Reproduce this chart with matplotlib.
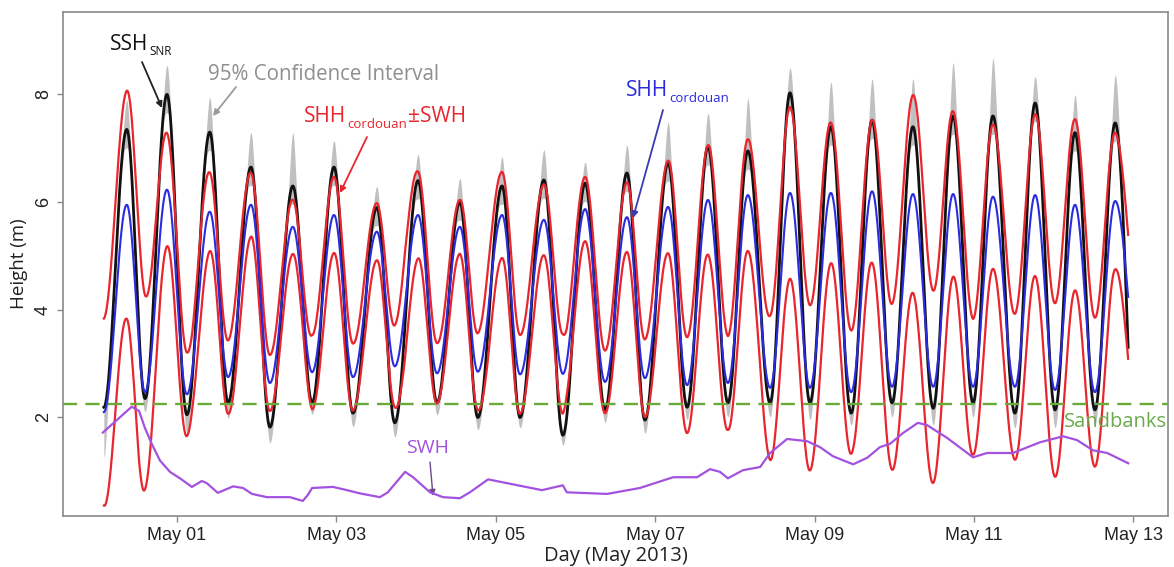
import numpy as np
import matplotlib
matplotlib.use("Agg")
import matplotlib.pyplot as plt
import matplotlib.dates as mdates

# ---------------------------------------------------------------
# Data (hours counted from 2013-04-30 00:00)
# ---------------------------------------------------------------
# times of low and high water
lw_hours = [2.0, 14.4, 27.0, 39.4, 52.0, 64.7, 77.0, 89.6, 102.3, 114.6, 127.3,
            140.2, 152.9, 164.9, 177.6, 189.9, 202.6, 214.6, 227.0, 239.3,
            251.7, 263.7, 276.3, 288.4, 300.4]
hw_hours = [8.9, 21.0, 33.9, 46.3, 58.9, 71.3, 84.2, 96.6, 109.2, 121.9, 134.5,
            146.9, 159.5, 171.9, 183.9, 195.9, 208.6, 220.9, 233.3, 245.6,
            257.7, 269.7, 282.4, 294.4, 306.5]
end_hour = 310.4

# Cordouan tide gauge (m)
cord_lw = [2.10, 2.47, 2.43, 2.75, 2.64, 2.84, 2.75, 2.95, 2.82, 2.85, 2.80,
           2.81, 2.66, 2.73, 2.60, 2.64, 2.55, 2.55, 2.47, 2.57, 2.57, 2.57,
           2.57, 2.51, 2.47]
cord_hw = [5.95, 6.23, 5.82, 5.95, 5.54, 5.76, 5.45, 5.76, 5.54, 5.76, 5.67,
           5.87, 5.72, 5.91, 6.04, 6.13, 6.17, 6.17, 6.20, 6.15, 6.15, 6.10,
           6.13, 5.95, 6.02]
cord_end = 4.24

# SNR-derived sea surface height (m)
snr_lw = [2.19, 2.35, 2.05, 2.27, 1.82, 2.27, 2.08, 1.90, 2.27, 2.00, 2.00,
          1.67, 2.14, 1.95, 2.19, 2.27, 2.27, 2.27, 2.08, 2.27, 2.17, 2.27,
          2.08, 2.14, 2.14]
snr_hw = [7.35, 8.00, 7.30, 6.65, 6.30, 6.65, 5.90, 6.40, 6.00, 6.30, 6.41,
          6.35, 6.54, 6.73, 7.03, 6.95, 8.03, 7.40, 7.52, 7.40, 7.60, 7.60,
          7.84, 7.29, 7.47]
snr_end = 3.30

# 95% confidence interval extremes (m)
ci_low = [1.35, 2.20, 1.80, 2.08, 1.62, 2.15, 1.92, 1.73, 2.14, 1.86, 1.90,
          1.58, 2.00, 1.80, 2.05, 2.10, 2.10, 2.05, 1.95, 2.10, 1.95, 2.10,
          1.90, 1.90, 1.95]
ci_high = [7.80, 8.45, 7.85, 7.20, 7.20, 7.05, 6.20, 6.80, 6.35, 6.75, 6.88,
           6.65, 6.97, 7.40, 7.56, 7.84, 8.40, 8.14, 8.20, 8.20, 8.50, 8.58,
           8.24, 7.90, 8.27]

# Significant wave height (m)
swh_hours = [1.7, 10.4, 12.6, 14.4, 16.5, 18.9, 21.9, 24.9, 28.5, 31.5, 33.0,
             36.3, 40.9, 43.9, 46.6, 51.1, 58.0, 61.9, 63.4, 64.7, 71.0, 75.2,
             79.1, 85.1, 87.5, 92.7, 95.1, 100.2, 104.1, 109.2, 112.2, 117.7,
             123.4, 133.9, 140.2, 141.4, 153.5, 163.4, 173.4, 180.6, 184.5,
             187.5, 189.9, 194.4, 199.6, 202.6, 207.7, 213.7, 217.6, 221.5,
             227.6, 231.8, 235.7, 238.7, 242.6, 247.1, 249.8, 255.9, 263.7,
             267.9, 275.7, 283.9, 290.8, 295.0, 299.8, 304.1, 310.4]
swh_vals = [1.72, 2.20, 2.12, 1.80, 1.50, 1.20, 0.99, 0.87, 0.71, 0.82, 0.78,
            0.60, 0.72, 0.69, 0.58, 0.52, 0.52, 0.45, 0.56, 0.69, 0.71, 0.65,
            0.59, 0.52, 0.61, 0.99, 0.89, 0.61, 0.52, 0.50, 0.61, 0.85, 0.78,
            0.65, 0.74, 0.61, 0.58, 0.69, 0.89, 0.89, 1.04, 0.99, 0.87, 1.02,
            1.08, 1.34, 1.60, 1.56, 1.45, 1.28, 1.13, 1.25, 1.45, 1.51, 1.71,
            1.90, 1.86, 1.62, 1.26, 1.34, 1.34, 1.54, 1.65, 1.58, 1.39, 1.34,
            1.15]

sandbank_level = 2.25

y_ticks = [2, 4, 6, 8]
x_tick_days = [1, 3, 5, 7, 9, 11, 13]


# ---------------------------------------------------------------
# Helpers
# ---------------------------------------------------------------
def tidal_line(lw_v, hw_v, end_v, n=48):
    """Smooth tidal trace through alternating low/high water values."""
    nodes_t, nodes_v = [], []
    for a, b, c, d in zip(lw_hours, lw_v, hw_hours, hw_v):
        nodes_t += [a, c]
        nodes_v += [b, d]
    nodes_t.append(end_hour)
    nodes_v.append(end_v)
    ts, vs = [], []
    last = len(nodes_t) - 2
    for i in range(len(nodes_t) - 1):
        u = np.linspace(0, 1, n, endpoint=False)
        if i == last:
            s = 1 - np.cos(u * np.pi / 2)
        else:
            s = (1 - np.cos(np.pi * u)) / 2
        ts.append(nodes_t[i] + (nodes_t[i + 1] - nodes_t[i]) * u)
        vs.append(nodes_v[i] + (nodes_v[i + 1] - nodes_v[i]) * s)
    ts.append([nodes_t[-1]])
    vs.append([nodes_v[-1]])
    return np.concatenate(ts), np.concatenate(vs)


base = mdates.date2num(np.datetime64("2013-04-30T00:00"))


def to_x(hours):
    return base + np.asarray(hours) / 24.0


t, cord = tidal_line(cord_lw, cord_hw, cord_end)
_, snr = tidal_line(snr_lw, snr_hw, snr_end)
_, phase = tidal_line([0.0] * 25, [1.0] * 25, 0.5)

swh = np.interp(t, swh_hours, swh_vals)
upper_env = cord + swh
lower_env = cord - swh

spike_up = np.interp(t, hw_hours, np.array(ci_high) - np.array(snr_hw))
spike_dn = np.interp(t, lw_hours, np.array(snr_lw) - np.array(ci_low))
ci_top = snr + 0.09 + spike_up * phase ** 16
ci_bot = snr - 0.09 - spike_dn * (1 - phase) ** 14 - 0.25 * phase ** 16

x = to_x(t)

# ---------------------------------------------------------------
# Figure
# ---------------------------------------------------------------
W, H = 1174, 567
fig = plt.figure(figsize=(W / 100, H / 100), dpi=100)
ax = fig.add_axes([63 / W, 1 - 516 / H, (1168 - 63) / W, (516 - 12) / H])

RED = "#e8262d"
BLUE = "#2b2be0"
PURPLE = "#a352e0"
GREEN = "#6aaa3a"
GREY = "#8f8f8f"

ax.fill_between(x, ci_bot, ci_top, color="#a6a6a6", lw=0, alpha=0.7, zorder=1)
ax.plot(x, snr, color="#111111", lw=2.0, zorder=2)
ax.plot(x, upper_env, color=RED, lw=1.6, zorder=3)
ax.plot(x, lower_env, color=RED, lw=1.6, zorder=3)
ax.plot(x, cord, color=BLUE, lw=1.5, zorder=4)
ax.plot(to_x(swh_hours), swh_vals, color=PURPLE, lw=1.6, zorder=5)
ax.axhline(sandbank_level, color=GREEN, lw=1.7, dashes=(6, 3.5), zorder=6)

ax.set_xlim(to_x(-10.3), to_x(322.4))
ax.set_ylim(0.17, 9.53)

ax.set_xticks([to_x(24 * d) for d in x_tick_days])
ax.xaxis.set_major_formatter(mdates.DateFormatter("%b %d"))
ax.set_yticks(y_ticks)
ax.set_yticklabels([str(v) for v in y_ticks], rotation=90, va="center")

for s in ax.spines.values():
    s.set_color("#8a8a8a")
    s.set_linewidth(1.2)
ax.tick_params(axis="both", direction="out", length=4, width=1, color="#8a8a8a",
               labelsize=13, labelcolor="#222222", pad=4)
for lab in ax.get_xticklabels() + ax.get_yticklabels():
    lab.set_family("Liberation Sans")

ax.set_xlabel("Day (May 2013)", family="Open Sans", fontsize=14.5, color="#222222",
              labelpad=1)
ax.set_ylabel("Height (m)", family="Open Sans", fontsize=13.5, color="#222222",
              labelpad=5)


def fpos(px, py):
    return (px / W, 1 - py / H)


def label_with_sub(px, py, main, sub, color, size, subsize, tail=None):
    t1 = fig.text(*fpos(px, py), main, color=color, fontsize=size,
                  family="Open Sans", va="center", ha="left")
    t2 = ax.annotate(sub, xy=(1, 0.12), xycoords=t1, xytext=(0.5, 0),
                     textcoords="offset points", color=color,
                     fontsize=subsize, family="Open Sans", va="center",
                     ha="left", annotation_clip=False)
    if tail:
        ax.annotate(tail, xy=(1, 0.5), xycoords=(t2, t1), xytext=(0.5, 0),
                    textcoords="offset points", color=color, fontsize=size,
                    family="Open Sans", va="center", ha="left",
                    annotation_clip=False)
    return t1


def arrow(p0, p1, color, lw=1.3):
    ax.annotate("", xy=fpos(*p1), xytext=fpos(*p0), xycoords="figure fraction",
                textcoords="figure fraction", annotation_clip=False,
                arrowprops=dict(arrowstyle="-|>", color=color, lw=lw,
                                mutation_scale=9, shrinkA=0, shrinkB=0))


label_with_sub(110, 44, "SSH", "SNR", "#111111", 15, 8.5)
arrow((142, 62), (162, 108), "#222222")

fig.text(*fpos(208, 74), "95% Confidence Interval", color=GREY, fontsize=14.8,
         family="Open Sans", va="center", ha="left")
arrow((236, 87), (213, 116), "#9a9a9a")

label_with_sub(304, 117, "SHH", "cordouan", RED, 15, 9.5, tail="\u00b1SWH")
arrow((367, 137), (340, 193), RED)

label_with_sub(626, 91, "SHH", "cordouan", BLUE, 15, 9.5)
arrow((663, 110), (633, 218), "#3a3ab0")

fig.text(*fpos(406, 448), "SWH", color=PURPLE, fontsize=14, family="Open Sans",
         va="center", ha="left")
arrow((430, 462), (433, 496), "#6a4a8a", lw=1.0)

fig.text(*fpos(1064, 422), "Sandbanks", color="#6aaa4a", fontsize=14.5,
         family="Open Sans", va="center", ha="left")

fig.savefig("out.png", dpi=100)
